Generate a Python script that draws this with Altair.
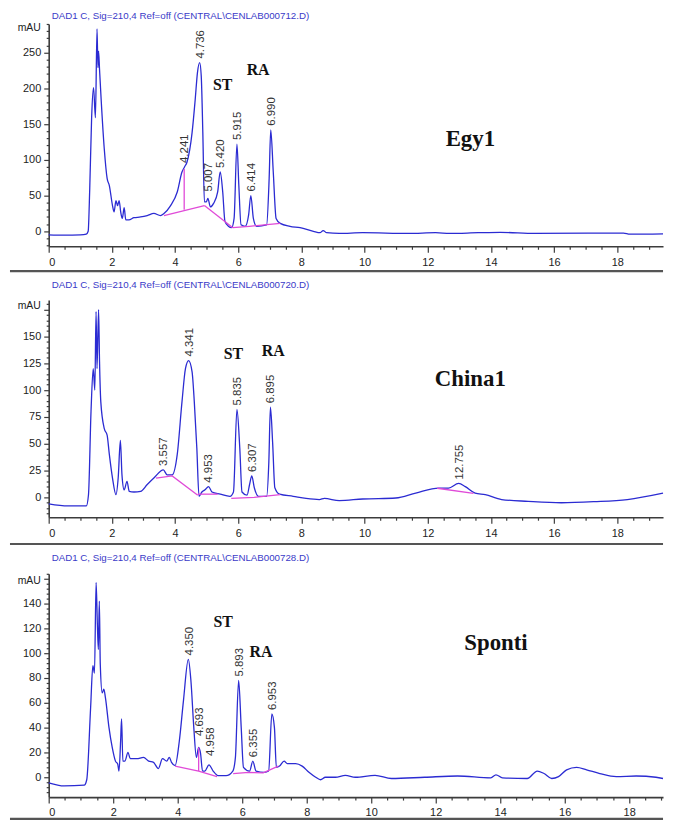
import altair as alt
import pandas as pd

# ---------------- data ----------------
# Panel 1: Egy1
egy_t = [0.00, 0.50, 1.00, 1.19, 1.25, 1.30, 1.36, 1.42, 1.48, 1.53, 1.56, 1.58, 1.61, 1.66, 1.76, 1.85,
         1.92, 2.02, 2.07, 2.13, 2.18, 2.23, 2.28, 2.33, 2.39, 2.44, 2.54, 2.70, 2.91, 3.12, 3.33, 3.54,
         3.65, 3.86, 4.07, 4.22, 4.30, 4.38, 4.54, 4.64, 4.71, 4.78, 4.83, 4.88, 4.93, 4.99, 5.04, 5.12,
         5.22, 5.35, 5.43, 5.51, 5.58, 5.69, 5.79, 5.87, 5.96, 6.02, 6.09, 6.22, 6.33, 6.40, 6.48, 6.58,
         6.90, 6.98, 7.03, 7.11, 7.20, 7.33, 7.64, 7.96, 8.38, 8.59, 8.69, 8.80, 9.20, 9.94, 11.40, 12.25,
         12.70, 13.60, 14.30, 15.40, 18.20, 18.40, 19.45]
egy_v = [-5, -5.5, -5, -4, 0, 60, 160, 201, 159, 283, 229, 252, 226, 185, 115, 74,
         64, 36, 27, 43, 36, 43, 27, 18, 33, 16, 16, 19, 20, 22, 25, 22,
         25, 36, 55, 83, 90, 97, 138, 185, 222, 236, 217, 138, 41, 41, 46, 34,
         39, 55, 83, 55, 14, 7, 5, 18, 122, 64, 9, 7, 23, 50, 18, 7,
         9, 74, 142, 83, 18, 11, 7, 5, 0, -2, 1, -2, -3, -2, -3, -2,
         -3, -2, -1.5, -3, -2.5, -4, -3.5]
egy_base_seg = [1, 1, 2, 2, 3, 3, 3]
egy_base_t = [3.65, 4.93, 4.93, 5.83, 5.83, 6.35, 7.33]
egy_base_v = [22, 36, 36, 5, 5, 7, 11]
egy_drop_t = [4.29]
egy_drop_top = [87]
egy_drop_bot = [30]
egy_peak_t = [4.29, 4.80, 5.04, 5.43, 5.96, 6.40, 7.03]
egy_peak_v = [90, 236, 50, 83, 122, 50, 142]
egy_peak_lab = ["4.241", "4.736", "5.007", "5.420", "5.915", "6.414", "6.990"]
egy_ann_t = [5.51, 6.63, 13.35]
egy_ann_v = [205, 225, 129]
egy_ann_lab = ["ST", "RA", "Egy1"]

# Panel 2: China1
chi_t = [0.00, 0.61, 1.19, 1.26, 1.34, 1.41, 1.46, 1.50, 1.53, 1.58, 1.61, 1.65, 1.76, 1.85, 1.92, 2.02,
         2.13, 2.20, 2.27, 2.32, 2.39, 2.48, 2.55, 2.70, 2.91, 3.12, 3.33, 3.63, 3.75, 3.91, 4.07, 4.22,
         4.33, 4.43, 4.54, 4.61, 4.69, 4.76, 4.85, 4.95, 5.06, 5.17, 5.43, 5.74, 5.85, 5.96, 6.05, 6.12,
         6.28, 6.36, 6.43, 6.51, 6.64, 6.90, 6.97, 7.02, 7.09, 7.16, 7.31, 7.74, 8.15, 8.57, 8.73, 9.20,
         9.94, 10.99, 11.62, 12.35, 12.66, 12.98, 13.19, 13.50, 13.82, 14.34, 15.18, 16.23, 17.27, 18.32,
         19.45]
chi_v = [-6, -8, -8, 2.5, 80, 120, 100, 173, 120, 175, 126, 89, 64, 58, 40, 18,
         2.5, 18, 53, 21, 7, 15, 5.6, 5, 5.6, 12, 18, 25.6, 21, 21, 40, 89,
         120, 127.5, 117, 89, 46, 1, 5, 7, 10, 5, 3, 1, 5, 82, 46, 5,
         2, 12, 20, 9, 1, 1, 33, 84, 51, 9, 3, 1, -1, -2, -1, -3,
         -1.5, -0.6, 4, 8.6, 8.6, 13, 10, 4, 2.5, -2, -3.7, -5, -4, -2,
         4]
chi_base_seg = [1, 1, 1, 2, 2, 3, 3, 3, 4, 4]
chi_base_t = [3.40, 3.91, 4.72, 4.72, 5.35, 5.78, 6.50, 7.33, 12.30, 13.45]
chi_base_v = [18, 20, 2, 3, 3, -1, 0, 2.5, 8.5, 3.8]
chi_peak_t = [3.63, 4.43, 5.06, 5.96, 6.43, 7.02, 13.00]
chi_peak_v = [25.6, 127.5, 10, 82, 20, 84, 13]
chi_peak_lab = ["3.557", "4.341", "4.953", "5.835", "6.307", "6.895", "12.755"]
chi_ann_t = [5.85, 7.11, 13.35]
chi_ann_v = [134, 136, 110]
chi_ann_lab = ["ST", "RA", "China1"]

# Panel 3: Sponti
spo_t = [0.00, 0.48, 1.10, 1.18, 1.30, 1.37, 1.42, 1.47, 1.51, 1.54, 1.57, 1.60, 1.66, 1.71, 1.76, 1.87,
         1.97, 2.07, 2.14, 2.18, 2.23, 2.26, 2.30, 2.36, 2.46, 2.53, 2.73, 2.94, 3.10, 3.25, 3.40, 3.53,
         3.66, 3.74, 3.81, 3.92, 4.05, 4.18, 4.33, 4.41, 4.50, 4.58, 4.65, 4.71, 4.77, 4.84, 4.97, 5.10,
         5.25, 5.50, 5.71, 5.79, 5.89, 5.97, 6.04, 6.23, 6.33, 6.43, 6.69, 6.82, 6.92, 7.00, 7.06, 7.16,
         7.30, 7.40, 7.66, 7.86, 8.07, 8.28, 8.43, 8.58, 8.89, 9.20, 9.51, 10.12, 10.63, 11.66, 12.68,
         13.71, 13.87, 14.07, 14.84, 15.15, 15.36, 15.60, 15.81, 16.06, 16.37, 16.68, 17.09, 17.60,
         18.22, 18.83, 19.05]
spo_v = [-4.5, -7, -6.4, -2, 56, 90, 84, 157, 123, 103, 142, 91, 68, 71, 64, 40,
         24, 13, 10.7, 5, 29, 47, 13, 13, 20, 15, 15, 16, 13, 12, 7, 15,
         13, 16, 12, 9.4, 29, 62, 95, 78, 40, 16, 24, 19, 5, 5, 10, 5,
         1.3, 1.3, 5, 16, 78, 40, 8, 5, 13, 5, 4, 5, 51, 40, 8, 9,
         13, 11, 11, 9, 4, 0, -2, 0, 0, 1.5, 0, 1.5, -1, 0, 1,
         -0.5, 2, -0.5, -1, 5, 3, -1, 0.5, 6, 8, 6, 3, 0.5,
         1, 0, -1]
spo_base_seg = [1, 1, 1, 2, 2, 2, 2]
spo_base_t = [3.92, 4.65, 5.22, 5.72, 6.20, 6.65, 7.12]
spo_base_v = [9, 5, 0.5, 3, 4, 3.5, 9]
spo_drop_t = [4.65]
spo_drop_top = [24]
spo_drop_bot = [5]
spo_peak_t = [4.35, 4.67, 4.99, 5.91, 6.35, 6.94]
spo_peak_v = [95, 30, 14, 78, 13, 51]
spo_peak_lab = ["4.350", "4.693", "4.958", "5.893", "6.355", "6.953"]
spo_ann_t = [5.41, 6.58, 13.87]
spo_ann_v = [125, 101, 108]
spo_ann_lab = ["ST", "RA", "Sponti"]

titles = ["DAD1 C, Sig=210,4 Ref=off (CENTRAL\\CENLAB000712.D)",
          "DAD1 C, Sig=210,4 Ref=off (CENTRAL\\CENLAB000720.D)",
          "DAD1 C, Sig=210,4 Ref=off (CENTRAL\\CENLAB000728.D)"]

# ---------------- style ----------------
BLUE = "#2b2bd2"
MAGENTA = "#e04ad8"
TITLE_BLUE = "#3a3ac8"
AXIS = "#3c3c3c"
SANS = "Liberation Sans Narrow, Arial Narrow, Liberation Sans, Arial, sans-serif"
SERIF = "Liberation Serif, Times New Roman, serif"
W = 619


def panel(t, v, bseg, bt, bv, drop, pk_t, pk_v, pk_lab, an_t, an_v, an_lab, title,
          xmax, ydom, ystep, ymajor, ylabmax, height, sep_off, title_off, mau_v):
    xvals = [i * 0.5 for i in range(0, 40) if i * 0.5 <= xmax]
    yvals = []
    y = int(ydom[0] // ystep + 1) * ystep
    while y <= ydom[1]:
        yvals.append(y)
        y += ystep
    xenc = alt.X("t:Q", scale=alt.Scale(domain=[0, xmax], nice=False, zero=False),
                 axis=alt.Axis(values=xvals, title=None, grid=False,
                               labelExpr="datum.value % 2 === 0 ? format(datum.value, 'd') : ''",
                               labelOverlap=False, labelFont=SANS, labelFontSize=11,
                               labelColor="#222", labelPadding=4,
                               tickSize={"condition": {"test": "datum.value % 2 === 0", "value": 6}, "value": 3},
                               tickColor=AXIS, tickWidth=1.2, domainColor=AXIS, domainWidth=1.6))
    yenc = alt.Y("v:Q", scale=alt.Scale(domain=ydom, nice=False, zero=False),
                 axis=alt.Axis(values=yvals, title=None, grid=False,
                               labelExpr=(f"datum.value % {ymajor} === 0 && datum.value >= 0 && "
                                          f"datum.value <= {ylabmax} ? format(datum.value, 'd') : ''"),
                               labelOverlap=False, labelFont=SANS, labelFontSize=11,
                               labelColor="#222", labelPadding=3,
                               tickSize={"condition": {"test": f"datum.value % {ymajor} === 0", "value": 5}, "value": 2.5},
                               tickColor=AXIS, tickWidth=1.2, domainColor=AXIS, domainWidth=1.6))

    trace = alt.Chart(pd.DataFrame({"t": t, "v": v})).mark_line(
        color=BLUE, strokeWidth=1.3, interpolate="monotone").encode(x=xenc, y=yenc)
    base = alt.Chart(pd.DataFrame({"t": bt, "v": bv, "s": bseg})).mark_line(
        color=MAGENTA, strokeWidth=1.3).encode(x=xenc, y=yenc, detail="s:N")
    layers = [trace, base]
    if drop is not None:
        dt, dtop, dbot = drop
        layers.append(alt.Chart(pd.DataFrame({"t": dt, "v": dtop, "v2": dbot})).mark_rule(
            color=MAGENTA, strokeWidth=1.3).encode(x=xenc, y=yenc, y2="v2:Q"))
    layers.append(alt.Chart(pd.DataFrame({"t": pk_t, "v": pk_v, "lab": pk_lab})).mark_text(
        angle=270, align="left", baseline="middle", dx=4, dy=1, font="Liberation Sans",
        fontSize=11.5, color="#333").encode(x=xenc, y=yenc, text="lab:N"))
    sizes = [16, 16, 23]
    for i in range(3):
        layers.append(alt.Chart(pd.DataFrame({"t": [an_t[i]], "v": [an_v[i]], "lab": [an_lab[i]]})).mark_text(
            font=SERIF, fontWeight="bold", fontSize=sizes[i], color="#111").encode(
            x=xenc, y=yenc, text="lab:N"))
    layers.append(alt.Chart(pd.DataFrame({"v": [mau_v], "lab": ["mAU"]})).mark_text(
        align="right", baseline="middle", font=SANS, fontSize=10.5, color="#222").encode(
        x=alt.value(-8), y=yenc, text="lab:N"))
    layers.append(alt.Chart(pd.DataFrame({"a": [0]})).mark_rule(
        color="#555", strokeWidth=2.2).encode(
        x=alt.value(-39), x2=alt.value(W), y=alt.value(height + sep_off)))
    return alt.layer(*layers).properties(
        width=W, height=height,
        title=alt.TitleParams(title, anchor="start", frame="group", font=SANS, fontSize=9.8,
                              fontWeight="normal", color=TITLE_BLUE, offset=title_off, dx=3))


p1 = panel(egy_t, egy_v, egy_base_seg, egy_base_t, egy_base_v,
           (egy_drop_t, egy_drop_top, egy_drop_bot),
           egy_peak_t, egy_peak_v, egy_peak_lab, egy_ann_t, egy_ann_v, egy_ann_lab, titles[0],
           19.45, [-21, 290], 10, 50, 250, 224, 25, -3, 284)
p2 = panel(chi_t, chi_v, chi_base_seg, chi_base_t, chi_base_v, None,
           chi_peak_t, chi_peak_v, chi_peak_lab, chi_ann_t, chi_ann_v, chi_ann_lab, titles[1],
           19.45, [-18.5, 184], 5, 25, 150, 219, 27, 8, 178)
p3 = panel(spo_t, spo_v, spo_base_seg, spo_base_t, spo_base_v,
           (spo_drop_t, spo_drop_top, spo_drop_bot),
           spo_peak_t, spo_peak_v, spo_peak_lab, spo_ann_t, spo_ann_v, spo_ann_lab, titles[2],
           19.05, [-16, 164], 4, 20, 140, 225, 22, 5, 158)

chart = alt.vconcat(p1, p2, p3, spacing=7).properties(
    padding={"left": 0, "top": 0, "right": 0, "bottom": 0},
    background="white",
).configure_view(stroke=None)

chart.save("out.html", embed_options={"renderer": "svg", "actions": False})
